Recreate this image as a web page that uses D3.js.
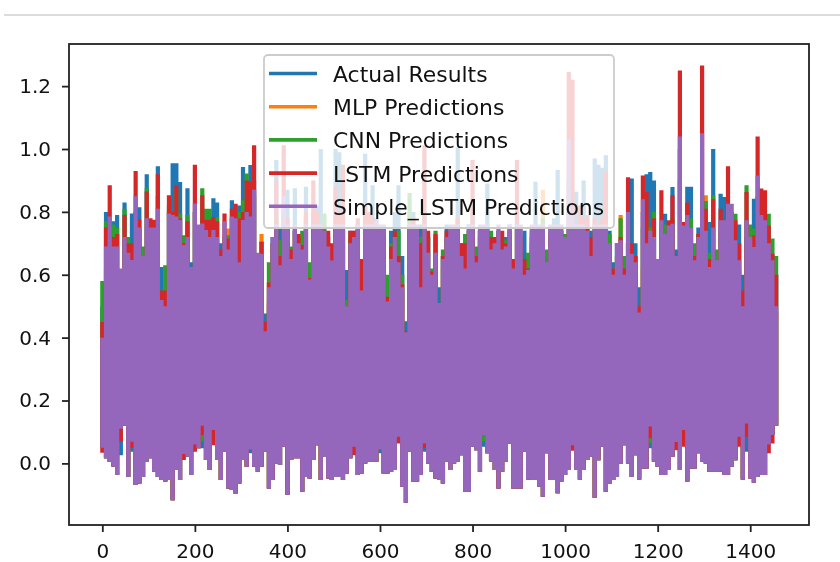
<!DOCTYPE html>
<html>
<head>
  <meta charset="utf-8">
  <title>predictions</title>
  <style>
    html, body { margin: 0; padding: 0; background: #fff; overflow: hidden; }
    svg { display: block; filter: blur(0.7px); }
    text { font-family: "DejaVu Sans", sans-serif; }
  </style>
</head>
<body>
  <div id="shapes"></div>
  <script src="https://d3js.org/d3.v7.min.js"></script>
  <script>
  // one reading of the envelope every 8 samples, 0..1456
  var step = 8;
  var xTicks = [0, 200, 400, 600, 800, 1000, 1200, 1400];
  var yTicks = [0, 0.2, 0.4, 0.6, 0.8, 1.0, 1.2];
  var seriesNames = ["Actual Results", "MLP Predictions", "CNN Predictions", "LSTM Predictions", "Simple_LSTM Predictions"];
  var seriesColors = ["#1f77b4", "#ff7f0e", "#2ca02c", "#d62728", "#9467bd"];

  var actualHigh = [
    .50,.80,.72,.77,.79,.60,.83,.70,.795,.80,
    .815,.60,.92,.72,.74,.945,.625,.52,.80,.955,
    .955,.895,.72,.875,.64,.80,.72,.80,.78,.76,
    .843,.83,.70,.70,.60,.837,.75,.82,.943,.80,
    .949,.90,.60,.60,.477,.50,.72,.965,.75,.80,
    .87,.60,.875,.70,.72,.88,.63,.80,.82,1.0,
    .70,.72,.64,1.0,.99,.80,.615,.74,.74,.76,
    .62,.985,.80,.885,.78,.74,.75,.56,.74,.80,
    .885,.66,.452,.80,.80,.74,.76,.80,.72,.60,
    .72,.56,.66,.76,.74,.75,1.005,.70,.62,.76,
    .82,.68,.74,.72,.89,.72,.72,.74,.72,.72,
    .76,.60,.80,.72,.74,.60,.74,.896,.72,.72,
    .64,.75,.78,.933,.72,.70,.90,.864,.864,.76,
    .90,.78,.74,.97,.95,.94,.98,.74,.64,.70,
    .68,.60,.70,.906,.70,.56,.80,.92,.927,.90,
    .65,.75,.794,.74,.879,.68,1.0,.70,.88,.88,
    .66,.75,.85,.72,.768,1.0,.66,.858,.847,.78,
    .76,.70,.76,.60,.72,.72,.842,.84,.80,.78,
    .72,.66,.60];

  var mlpHigh = [
    .38,.62,.62,.62,.62,.58,.62,.62,.60,.62,
    .62,.60,.62,.62,.62,.62,.50,.48,.62,.62,
    .62,.62,.62,.62,.60,.62,.62,.62,.62,.62,
    .62,.62,.62,.62,.747,.62,.62,.60,.62,.62,
    .62,.62,.60,.73,.40,.52,.62,.62,.60,.62,
    .62,.60,.62,.62,.62,.62,.56,.62,.62,.62,
    .62,.62,.60,.62,.62,.62,.48,.62,.62,.62,
    .50,.62,.62,.62,.62,.62,.62,.50,.62,.62,
    .60,.54,.40,.62,.62,.62,.52,.62,.62,.58,
    .62,.48,.62,.62,.62,.62,.62,.62,.60,.62,
    .62,.62,.62,.62,.62,.62,.62,.62,.62,.62,
    .62,.60,.62,.62,.58,.60,.62,.62,.62,.87,
    .62,.62,.62,.62,.62,.62,.62,.62,.62,.62,
    .62,.62,.62,.62,.62,.62,.62,.62,.58,.62,
    .79,.58,.62,.62,.62,.46,.62,.62,.62,.62,
    .62,.62,.62,.62,.62,.62,.62,.62,.62,.62,
    .62,.62,.62,.853,.60,.62,.62,.62,.62,.62,
    .62,.62,.62,.48,.62,.62,.62,.62,.62,.62,
    .62,.62,.48];

  var cnnHigh = [
    .58,.77,.72,.76,.75,.58,.81,.72,.68,.80,
    .75,.69,.875,.74,.72,.85,.55,.63,.82,.80,
    .87,.795,.726,.79,.60,.80,.72,.875,.81,.81,
    .784,.784,.68,.72,.726,.78,.78,.80,.837,.922,
    .85,.85,.60,.705,.44,.64,.70,.78,.71,.80,
    .76,.69,.74,.70,.74,.78,.64,.78,.75,.74,
    .795,.70,.66,.75,.74,.74,.52,.72,.72,.74,
    .60,.78,.76,.74,.76,.72,.74,.60,.70,.72,
    .74,.60,.42,.86,.76,.72,.72,.76,.72,.62,
    .74,.50,.68,.72,.72,.72,.78,.68,.73,.74,
    .74,.69,.72,.70,.72,.74,.68,.70,.72,.71,
    .72,.60,.75,.70,.65,.67,.70,.74,.72,.78,
    .68,.72,.72,.75,.72,.73,.85,.80,.75,.74,
    .76,.74,.70,.74,.72,.74,.78,.73,.62,.66,
    .78,.66,.70,.68,.66,.50,.75,.78,.75,.80,
    .60,.72,.76,.70,.78,.60,.90,.72,.74,.78,
    .70,.73,.85,.835,.67,.853,.68,.74,.74,.76,
    .76,.794,.70,.55,.885,.76,.746,.85,.76,.76,
    .794,.715,.66];

  var lstmHigh = [
    .45,.75,.885,.72,.73,.58,.79,.70,.70,.93,
    .775,.62,.865,.78,.775,.92,.55,.55,.853,.80,
    .885,.78,.70,.77,.60,.95,.72,.853,.775,.775,
    .784,.77,.68,.795,.715,.81,.826,.78,.80,.90,
    .896,1.012,.60,.705,.45,.575,.70,.90,.66,1.012,
    .78,.68,.74,.73,.695,.80,.59,.90,.80,.75,
    .74,.74,.70,.88,.80,.95,.50,.74,.74,.78,
    .65,.82,.80,.78,.74,.74,.72,.53,.69,.74,
    .66,.57,.42,.76,.78,.72,.70,1.012,.74,.61,
    .73,.50,.66,.74,.74,.72,.78,.70,.70,.74,
    .965,.66,.74,.74,.74,.72,.72,.74,.74,.70,
    .74,.65,.965,.72,.65,.62,.72,.74,.74,.74,
    .62,.73,.74,.74,.74,.72,1.245,1.22,.75,.82,
    .78,.79,.72,.78,.76,.78,.93,.70,.62,.64,
    .72,.62,.91,.70,.66,.50,.916,.863,.72,.78,
    .60,.869,.70,.773,.853,.64,1.25,.768,.83,.75,
    .66,.73,1.266,.81,.65,.84,.64,.81,.773,.945,
    .80,.773,.70,.55,.863,.72,.725,1.04,.874,.869,
    .757,.667,.60];

  var simpleHigh = [
    .40,.69,.785,.69,.69,.62,.72,.67,.647,.85,
    .75,.66,.78,.75,.75,.81,.52,.50,.795,.79,
    .785,.774,.695,.72,.625,.827,.76,.763,.742,.72,
    .742,.72,.66,.77,.68,.785,.78,.64,.774,.80,
    .785,.87,.67,.667,.42,.56,.72,.76,.63,.85,
    .76,.65,.76,.70,.68,.76,.585,.76,.76,.76,
    .74,.69,.645,.76,.76,.76,.50,.70,.72,.76,
    .55,.76,.76,.76,.77,.76,.76,.515,.65,.72,
    .64,.56,.417,.76,.76,.76,.56,.76,.67,.60,
    .67,.51,.65,.72,.76,.76,.76,.66,.62,.76,
    .76,.64,.76,.76,.76,.68,.70,.76,.68,.69,
    .76,.62,.76,.76,.60,.615,.76,.76,.76,.76,
    .64,.76,.76,.76,.76,.72,1.03,.80,.76,.76,
    .76,.74,.66,.76,.76,.76,.76,.70,.60,.70,
    .71,.60,.80,.667,.64,.48,.84,.70,.74,.72,
    .65,.773,.73,.757,.762,.66,1.04,.757,.79,.75,
    .646,.72,1.05,.74,.625,.75,.646,.773,.773,.826,
    .826,.71,.646,.50,.773,.72,.688,.916,.79,.773,
    .70,.646,.50];

  var simpleLow = [
    .05,.016,.005,-.01,-.037,.11,.12,-.043,.069,-.069,
    -.064,-.043,.005,.016,-.027,-.043,-.053,-.058,-.053,-.117,
    -.021,-.053,.03,.021,-.037,.06,.048,.12,.011,-.021,
    .106,.011,-.053,.037,-.08,-.085,-.096,-.064,.011,-.011,
    .045,-.011,-.027,-.011,.037,-.08,-.053,0,-.005,.053,
    -.10,.011,.016,.016,-.09,-.043,-.048,.011,.058,-.053,
    .02,-.048,-.053,-.043,-.043,-.053,-.032,.016,.053,-.037,
    -.032,0,.005,.005,.005,.045,-.032,-.032,-.027,-.021,
    .085,-.074,-.125,.037,-.058,-.058,-.037,.063,0,-.027,
    -.048,-.053,-.064,.005,-.021,0,.005,.026,-.09,-.09,
    .053,.042,-.027,.09,.032,.005,-.021,-.08,-.027,.005,
    .063,-.08,-.08,-.08,.037,-.051,-.053,-.053,-.074,-.106,
    .032,-.053,-.053,-.095,-.058,-.037,-.021,.058,-.021,-.051,
    -.021,.011,.021,-.109,.01,.053,-.09,-.064,-.053,-.043,
    0,.058,0,-.043,.026,-.051,-.016,-.016,.117,.005,
    -.011,-.037,-.037,-.021,.021,.068,-.021,.106,-.058,-.016,
    -.016,.032,.005,0,-.027,-.027,-.027,-.027,-.037,-.037,
    -.011,.01,.085,-.051,.127,-.048,-.062,-.043,-.037,-.037,
    .06,.09,.12];

  // places where a series reaches below the purple one
  var actualDipAt = [5, 8, 27, 40, 75, 87, 103, 148, 174];
  var actualDipValue = [.026, .037, .048, .032, .032, .037, .053, .048, .037];
  var cnnDipAt = [27, 103, 148];
  var cnnDipValue = [.07, .07, .065];
  var lstmDipAt = [0, 5, 8, 22, 25, 27, 30, 68, 80, 87, 127, 148, 155, 157, 172, 174, 180, 181];
  var lstmDipValue = [.034, .07, .05, .011, .037, .09, .058, .026, .063, .05, .04, .08, .042, .053, .053, .085, .032, .063];

  var w = 840;
  var h = 562;
  var left = 69, right = 809, top_ = 44, bottom = 525;

  var svg = d3.select("#shapes").append("svg")
    .attr("width", w)
    .attr("height", h);

  // the grey rule of the notebook above the plot
  svg.append("line")
    .attr("x1", 4).attr("x2", w)
    .attr("y1", 15).attr("y2", 15)
    .attr("stroke", "#dcdcdc")
    .attr("stroke-width", 2);

  var xScale = d3.scaleLinear().domain([-72, 1527]).range([left, right]);
  var yScale = d3.scaleLinear().domain([-0.196, 1.334]).range([bottom, top_]);

  function lows(dipAt, dipValue) {
    var out = simpleLow.slice();
    for (var t = 0; t < dipAt.length; t++) {
      out[dipAt[t]] = dipValue[t];
    }
    return out;
  }

  var highs = [actualHigh, mlpHigh, cnnHigh, lstmHigh, simpleHigh];
  var bottoms = [lows(actualDipAt, actualDipValue), simpleLow, lows(cnnDipAt, cnnDipValue), lows(lstmDipAt, lstmDipValue), simpleLow];

  var line = d3.line()
    .defined(function(d) { return d !== null; })
    .x(function(d) { return xScale(d[0]); })
    .y(function(d) { return yScale(d[1]); });

  for (var s = 0; s < seriesNames.length; s++) {
    var pts = [];
    for (var i = 0; i < highs[s].length; i++) {
      pts.push([i * step, highs[s][i]]);
      pts.push([i * step, bottoms[s][i]]);
      pts.push(null);
    }
    svg.append("path")
      .attr("d", line(pts))
      .attr("fill", "none")
      .attr("stroke", seriesColors[s])
      .attr("stroke-width", 4.2);
  }

  // axes
  var xAxis = d3.axisBottom(xScale).tickValues(xTicks).tickSize(7).tickPadding(12).tickFormat(d3.format("d"));
  var yAxis = d3.axisLeft(yScale).tickValues(yTicks).tickSize(7).tickPadding(11).tickFormat(d3.format(".1f"));

  var gx = svg.append("g").attr("transform", "translate(0," + bottom + ")").call(xAxis);
  var gy = svg.append("g").attr("transform", "translate(" + left + ",0)").call(yAxis);
  svg.selectAll(".tick text").attr("font-size", "20px").attr("font-family", "DejaVu Sans").attr("fill", "#111");
  svg.selectAll(".tick line").attr("stroke", "#222").attr("stroke-width", 1.8);
  gx.select(".domain").attr("stroke-width", 0);
  gy.select(".domain").attr("stroke-width", 0);

  svg.append("rect")
    .attr("x", left).attr("y", top_)
    .attr("width", right - left).attr("height", bottom - top_)
    .attr("fill", "none")
    .attr("stroke", "#222")
    .attr("stroke-width", 1.8);

  // legend
  var legend = svg.append("g");
  legend.append("rect")
    .attr("x", 264).attr("y", 55)
    .attr("width", 350).attr("height", 173)
    .attr("rx", 4)
    .attr("fill", "#fff")
    .attr("fill-opacity", 0.8)
    .attr("stroke", "#ccc")
    .attr("stroke-width", 1.8);

  for (var k = 0; k < seriesNames.length; k++) {
    var ly = 73.5 + k * 33.2;
    legend.append("line")
      .attr("x1", 269).attr("x2", 317)
      .attr("y1", ly).attr("y2", ly)
      .attr("stroke", seriesColors[k])
      .attr("stroke-width", 3.6);
    legend.append("text")
      .attr("x", 333).attr("y", ly + 8.5)
      .attr("font-size", "21.9px")
      .attr("fill", "#111")
      .text(seriesNames[k]);
  }
  </script>
</body>
</html>
